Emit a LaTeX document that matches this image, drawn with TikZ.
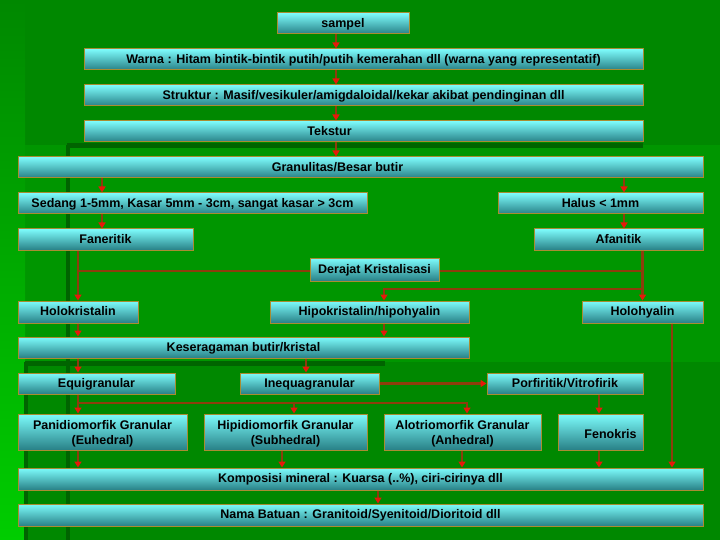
\documentclass[tikz,border=0pt]{standalone}
\usepackage{fontspec}
\setmainfont{Liberation Sans}
\usetikzlibrary{arrows.meta}
\definecolor{bgA}{RGB}{0,136,0}
\definecolor{bgB}{RGB}{0,150,0}
\definecolor{bgL}{RGB}{0,205,0}
\definecolor{bgD}{RGB}{0,100,0}
\definecolor{boxTop}{RGB}{125,252,252}
\definecolor{boxBot}{RGB}{40,128,134}
\definecolor{boxLine}{RGB}{170,140,50}
\definecolor{conn}{RGB}{140,62,12}
\definecolor{tipc}{RGB}{230,25,10}
\begin{document}
\begin{tikzpicture}[x=1pt,y=-1pt,
  box/.style={draw=boxLine, line width=1pt, top color=boxTop, bottom color=boxBot,
    inner sep=0pt, align=center, text=black,
    font=\bfseries\fontsize{12.5}{15}\selectfont},
  one/.style={text height=10.8pt, text depth=3pt},
  arr/.style={draw=conn, line width=2.3pt, -{Triangle[length=6pt,width=7pt,color=tipc]}},
  thinline/.style={draw=conn, line width=1.3pt},
  lbl/.style={text=black, align=center, font=\bfseries\fontsize{12.5}{15}\selectfont}]
\useasboundingbox (0,0) rectangle (720,540);
% background
\fill[bgA] (0,0) rectangle (720,540);
\fill[bgB] (0,145) rectangle (720,362);
\shade[top color=bgA, bottom color=bgL] (0,0) rectangle (25,540);
\fill[bgD] (67,143) rectangle (643,148);
\fill[bgD] (66,145) rectangle (70,540);
\fill[bgD] (25,361) rectangle (385,366);
\fill[bgD] (24,362) rectangle (28,540);
% column coordinates
\coordinate (c336) at (336,0);
\coordinate (c102) at (102,0);
\coordinate (c624) at (624,0);
\coordinate (c384) at (384,0);
\coordinate (c672) at (672,0);
\coordinate (c306) at (306,0);
\coordinate (c294) at (294,0);
\coordinate (c467) at (467,0);
\coordinate (c599) at (599,0);
\coordinate (c282) at (282,0);
\coordinate (c462) at (462,0);
\coordinate (c378) at (378,0);
% boxes
\node[box, one, minimum width=132, minimum height=21] (sampel) at (343,23.5) {sampel};
\node[box, one, minimum width=559, minimum height=21] (warna) at (363.5,59.5) {Warna : Hitam bintik-bintik putih/putih kemerahan dll (warna yang representatif)};
\node[box, one, minimum width=559, minimum height=21] (struktur) at (363.5,95.5) {Struktur : Masif/vesikuler/amigdaloidal/kekar akibat pendinginan dll};
\node[box, minimum width=559, minimum height=21, label={[lbl,one,xshift=-34pt]center:Tekstur}] (tekstur) at (363.5,131.5) {};
\node[box, minimum width=685, minimum height=21, label={[lbl,one,xshift=-23pt]center:Granulitas/Besar butir}] (granul) at (360.5,167.5) {};
\node[box, one, minimum width=349, minimum height=21] (sedang) at (192.5,203.5) {Sedang 1-5mm, Kasar 5mm - 3cm, sangat kasar > 3cm};
\node[box, one, minimum width=205, minimum height=21] (halus) at (600.5,203.5) {Halus < 1mm};
\node[box, one, minimum width=175, minimum height=21] (fan) at (105.5,239.5) {Faneritik};
\node[box, one, minimum width=169, minimum height=21] (afan) at (618.5,239.5) {Afanitik};
\node[box, one, minimum width=129, minimum height=23] (derajat) at (374.5,269.5) {Derajat Kristalisasi};
\node[box, one, minimum width=120, minimum height=22] (holo) at (78,312) {Holokristalin};
\node[box, one, minimum width=199, minimum height=22] (hipo) at (369.5,312) {Hipokristalin/hipohyalin};
\node[box, one, minimum width=121, minimum height=22] (holohy) at (642.5,312) {Holohyalin};
\node[box, one, minimum width=451, minimum height=21] (keser) at (243.5,347.5) {Keseragaman butir/kristal};
\node[box, one, minimum width=157, minimum height=21] (equi) at (96.5,383.5) {Equigranular};
\node[box, one, minimum width=139, minimum height=21] (inequ) at (309.5,383.5) {Inequagranular};
\node[box, one, minimum width=156, minimum height=21] (porf) at (565,383.5) {Porfiritik/Vitrofirik};
\node[box, minimum width=169, minimum height=36, label={[lbl,yshift=-2pt]center:Panidiomorfik Granular\\(Euhedral)}] (pani) at (102.5,432) {};
\node[box, minimum width=163, minimum height=36, label={[lbl,yshift=-2pt]center:Hipidiomorfik Granular\\(Subhedral)}] (hipi) at (285.5,432) {};
\node[box, minimum width=157, minimum height=36, label={[lbl,yshift=-2pt]center:Alotriomorfik Granular\\(Anhedral)}] (alot) at (462.5,432) {};
\node[box, minimum width=85, minimum height=36, label={[lbl,one,xshift=10pt,yshift=-3pt]center:Fenokris}] (feno) at (600.5,432) {};
\node[box, one, minimum width=685, minimum height=22] (kompos) at (360.5,479) {Komposisi mineral : Kuarsa (..\%), ciri-cirinya dll};
\node[box, one, minimum width=685, minimum height=22] (nama) at (360.5,515) {Nama Batuan : Granitoid/Syenitoid/Dioritoid dll};
% junctions
\coordinate (jL) at (78,271);
\coordinate (jR) at (642,271);
\coordinate (jH) at (642,289);
\coordinate (jE) at (78,403);
\coordinate (jE2) at (294,403);
% connectors
\draw[arr] (sampel.south -| c336) -- (warna.north -| c336);
\draw[arr] (warna.south -| c336) -- (struktur.north -| c336);
\draw[arr] (struktur.south -| c336) -- (tekstur.north -| c336);
\draw[arr] (tekstur.south -| c336) -- (granul.north -| c336);
\draw[arr] (granul.south -| c102) -- (sedang.north -| c102);
\draw[arr] (granul.south -| c624) -- (halus.north -| c624);
\draw[arr] (sedang.south -| c102) -- (fan.north -| c102);
\draw[arr] (halus.south -| c624) -- (afan.north -| c624);
\draw[arr] (fan.south -| holo) -- (holo.north);
\draw[arr] (afan.south -| holohy) -- (holohy.north);
\draw[thinline] (derajat.west |- jL) -- (jL);
\draw[thinline] (derajat.east |- jR) -- (jR);
\draw[arr] (jH) -- (jH -| c384) -- (hipo.north -| c384);
\draw[arr] (holo.south) -- (keser.north -| holo);
\draw[arr] (hipo.south -| c384) -- (keser.north -| c384);
\draw[arr] (holohy.south -| c672) -- (kompos.north -| c672);
\draw[arr] (keser.south -| holo) -- (equi.north -| holo);
\draw[arr] (keser.south -| c306) -- (inequ.north -| c306);
\draw[arr] (inequ.east) -- (porf.west);
\draw[arr] (equi.south -| holo) -- (pani.north -| holo);
\draw[arr] (jE) -- (jE -| c467) -- (alot.north -| c467);
\draw[arr] (jE2) -- (hipi.north -| c294);
\draw[arr] (porf.south -| c599) -- (feno.north -| c599);
\draw[arr] (pani.south -| holo) -- (kompos.north -| holo);
\draw[arr] (hipi.south -| c282) -- (kompos.north -| c282);
\draw[arr] (alot.south -| c462) -- (kompos.north -| c462);
\draw[arr] (feno.south -| c599) -- (kompos.north -| c599);
\draw[arr] (kompos.south -| c378) -- (nama.north -| c378);
\end{tikzpicture}
\end{document}
